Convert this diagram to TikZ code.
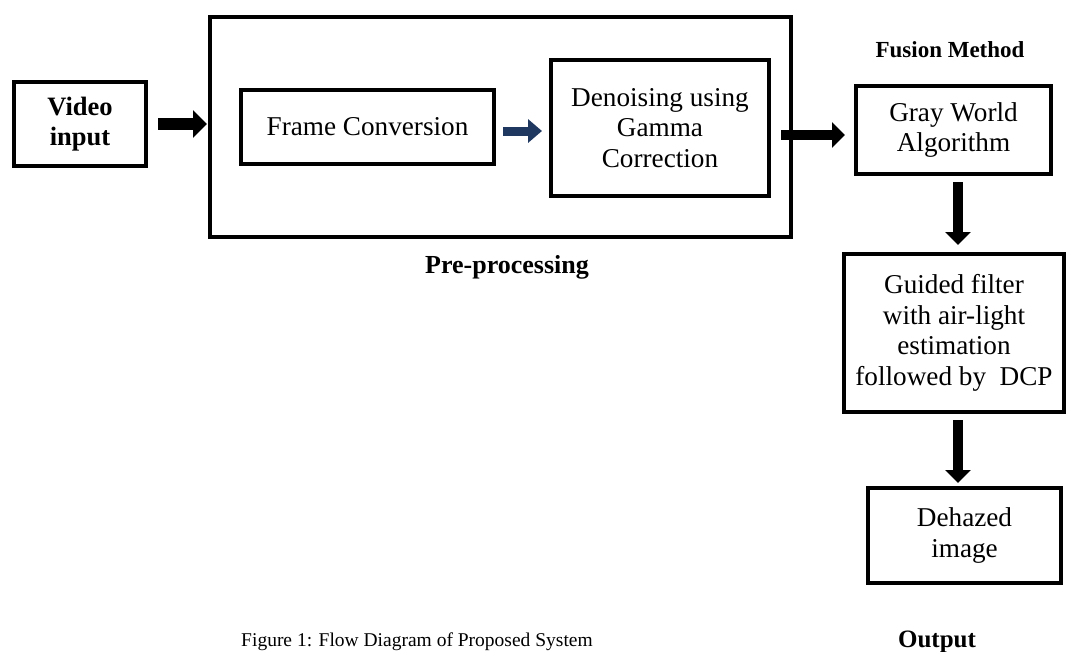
\documentclass[tikz,border=0pt]{standalone}
\usepackage{fontspec}
\setmainfont{Liberation Serif}
\usetikzlibrary{arrows.meta}
\definecolor{arrowblue}{RGB}{31,56,96}
\begin{document}
\begin{tikzpicture}[x=1pt,y=-1pt,
  box/.style={draw,line width=4pt,inner sep=0pt,outer sep=0pt,align=center,
    font=\fontsize{27.2}{30.5}\selectfont},
  outerbox/.style={draw,line width=3.5pt,inner sep=0pt,outer sep=0pt},
  bigarrow/.style={line width=12pt,-{Triangle[length=14pt,width=27pt]}},
  medarrow/.style={line width=10.5pt,-{Triangle[length=13pt,width=25pt]}},
  bluearrow/.style={arrowblue,line width=9pt,-{Triangle[length=14pt,width=23pt]}},
  lab/.style={anchor=base,inner sep=0pt,font=\fontsize{26}{30}\selectfont\bfseries}]
\useasboundingbox (0,0) rectangle (1071,651);
\node[box,minimum width=132pt,minimum height=84pt,font=\fontsize{26.5}{30}\selectfont\bfseries] (video) at (80,124) {Video\\input};
\node[outerbox,minimum width=581pt,minimum height=220pt] (outer) at (500.5,127) {};
\node[box,minimum width=253pt,minimum height=74pt] (frame) at (367.5,127) {Frame Conversion};
\node[box,minimum width=218pt,minimum height=136pt] (denoise) at (660,128) {Denoising using\\Gamma\\Correction};
\node[box,minimum width=195pt,minimum height=88pt] (gray) at (953.5,130) {Gray World\\Algorithm};
\node[box,minimum width=220pt,minimum height=158pt] (guided) at (954,333) {Guided filter\\with air-light\\estimation\\followed by\ \ DCP};
\node[box,minimum width=193pt,minimum height=95pt] (dehazed) at (964.5,535.5) {Dehazed\\image};
\node[lab] (pre) at (507,273) {Pre-processing};
\node[lab,font=\fontsize{23}{27}\selectfont\bfseries] (fusion) at (950,57) {Fusion Method};
\node[lab,font=\fontsize{25}{29}\selectfont\bfseries] (output) at (937,647) {Output};
\node[anchor=base,inner sep=0pt,font=\fontsize{19.5}{23}\selectfont] (caption) at (417,646) {Figure 1: Flow Diagram of Proposed System};
\draw[bigarrow] ([xshift=12pt]video.east) -- ([xshift=-3pt]video.east -| outer.west);
\draw[bluearrow] ([xshift=9pt,yshift=-4pt]frame.east) -- ([xshift=-9pt,yshift=-4pt]frame.east -| denoise.west);
\draw[medarrow] ([xshift=12pt,yshift=-5pt]denoise.east |- gray.west) -- ([xshift=-11pt,yshift=-5pt]gray.west);
\draw[medarrow] ([xshift=4.5pt,yshift=-8pt]gray.south) -- ([xshift=4.5pt,yshift=9pt]gray.south |- guided.north);
\draw[medarrow] ([xshift=4pt,yshift=-8pt]guided.south) -- ([xshift=4pt,yshift=5pt]guided.south |- dehazed.north);
\end{tikzpicture}
\end{document}
